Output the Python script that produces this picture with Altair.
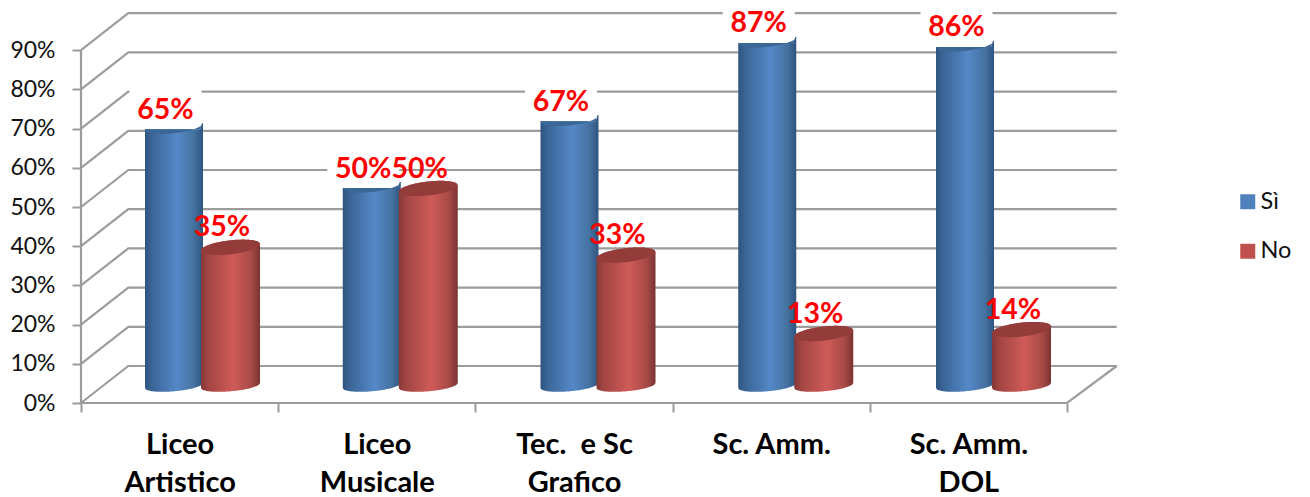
import json
import numpy as np
import pandas as pd
import altair as alt

CATEGORIES = [["Liceo", "Artistico"], ["Liceo", "Musicale"], ["Tec.\u00a0 e Sc", "Grafico"], ["Sc. Amm."], ["Sc. Amm.", "DOL"]]
SI = [65, 50, 67, 87, 86]
NO = [35, 50, 33, 13, 14]
LEVELS = [0, 10, 20, 30, 40, 50, 60, 70, 80, 90]
SERIES = ["Sì", "No"]
LEGEND_COLORS = ["#4F81BD", "#C0504D"]

# geometry: pixels per category / per percentage point
PX_X = 197.2
PX_Y = 3.92
W, H = 1039, 395
FONT = "Lato"
GRID = "#9c9c9c"

def dx(px):
    return px / PX_X

def dy(px):
    return px / PX_Y

DEPTH_X, DEPTH_Y = dx(47.3), dy(37)
BACK_END = 5 + dx(49.7)
MID_Y = dy(17.5)
BAR_STEP = dx(197.75)
BAR_W = {"Sì": dx(58), "No": dx(59)}
OFFS = {"Sì": dx(64), "No": dx(120)}
TOP_SHIFT = {"Sì": dy(4.5), "No": dy(1)}

# gridlines
grid_rows = []
for v in LEVELS:
    for k, (x, y) in enumerate([(0, v), (DEPTH_X, v + DEPTH_Y), (BACK_END, v + DEPTH_Y)]):
        grid_rows.append({"lvl": f"g{v}", "x": x, "y": y, "o": k})
for k, (x, y) in enumerate([(0, 0), (5, 0), (BACK_END, DEPTH_Y)]):
    grid_rows.append({"lvl": "floor", "x": x, "y": y, "o": k})
for k, (x, y) in enumerate([(0, 0), (0, 90)]):
    grid_rows.append({"lvl": "wall", "x": x, "y": y, "o": k})
grid_df = pd.DataFrame(grid_rows)

# cylinders
t = np.linspace(-1, 1, 61)
t = np.sort(np.concatenate([t, [0.9, 0.97]]))
s = np.sqrt(1 - t ** 2)
rows = []
for name, vals in zip(SERIES, [SI, NO]):
    for i, v in enumerate(vals):
        bw = BAR_W[name]
        c = i * BAR_STEP + OFFS[name] + bw / 2
        yc = v + MID_Y + TOP_SHIFT[name]
        for tt, ss in zip(t, s):
            lower = yc + dy(3.2 * tt - 7 * ss)
            if name == "Sì":
                upper = yc + dy(np.interp(tt, [-1, 0.9, 0.97, 1], [-3, -3, 3, 3]))
            else:
                upper = yc + dy(3.2 * tt + 7 * ss)
            base = MID_Y + dy(2.5 * tt - 5.8 * ss)
            rows.append({"series": name, "cat": i, "x": c + tt * bw / 2,
                         "upper": upper, "lower": lower, "base": base})
cyl = pd.DataFrame(rows)

# data labels
lab_rows = []
for name, vals in zip(SERIES, [SI, NO]):
    for i, v in enumerate(vals):
        cx = i * BAR_STEP + OFFS[name] + BAR_W[name] / 2 - dx(8.5)
        cy = v + MID_Y + dy(24)
        lab_rows.append({"series": name, "x": cx, "y": cy, "text": f"{v}%",
                         "x0": cx - dx(36), "x1": cx + dx(36),
                         "y0": cy - dy(18), "y1": cy + dy(18)})
lab = pd.DataFrame(lab_rows)

xs = alt.Scale(domain=[0, W / PX_X], nice=False, zero=False)
ys = alt.Scale(domain=[0, H / PX_Y], nice=False, zero=False)

label_expr = ("datum.value % 1 == 0 ? '' : " + json.dumps(CATEGORIES, ensure_ascii=False).replace('"', "'") +
              "[floor(datum.value)]")

x_axis = alt.Axis(
    values=[0, 0.5, 1, 1.5, 2, 2.5, 3, 3.5, 4, 4.5, 5],
    title=None, domain=False, grid=False, tickSize=9, tickWidth=2, tickColor=GRID,
    tickOpacity=alt.expr("datum.value % 1 == 0 ? 1 : 0"),
    labelExpr=label_expr, labelFont=FONT, labelFontWeight="bold", labelFontSize=29,
    labelColor="#000000", labelPadding=18, labelLineHeight=38, labelBaseline="top",
    labelOverlap=False, labelFlush=False,
)
y_axis = alt.Axis(
    values=LEVELS, title=None, domain=False, grid=False, tickSize=9, tickWidth=2, tickColor=GRID,
    labelExpr="datum.value + '%'", labelFont=FONT, labelFontSize=23, labelColor="#111111",
    labelPadding=17, labelOverlap=False, labelFlush=False,
)
X = alt.X("x:Q", scale=xs, axis=x_axis)

def Y(field):
    return alt.Y(field, scale=ys, axis=y_axis)

grid = alt.Chart(grid_df).mark_line(color=GRID, strokeWidth=2.2).encode(
    x=X, y=Y("y:Q"), detail="lvl:N", order="o:Q",
)

boxes = alt.Chart(lab[lab.series == "Sì"].drop(columns="x").rename(columns={"x0": "x"})).mark_rect(color="white").encode(
    x=X, x2="x1:Q", y=Y("y0:Q"), y2="y1:Q",
)

legend_src = alt.Chart(pd.DataFrame({"series": SERIES, "x": [OFFS["Sì"] + BAR_W["Sì"] / 2, OFFS["No"] + BAR_W["No"] / 2], "y": [5.0, 5.0]})).mark_square(size=4, opacity=1).encode(
    x=X, y=Y("y:Q"),
    color=alt.Color("series:N", sort=SERIES,
                    scale=alt.Scale(domain=SERIES, range=LEGEND_COLORS),
                    legend=alt.Legend(title=None, orient="none", legendX=1155, legendY=182,
                                      symbolType="square", symbolSize=225, symbolStrokeWidth=0,
                                      labelFont=FONT, labelFontSize=23.5, labelColor="#111111",
                                      rowPadding=24.5, labelOffset=1, padding=0)),
)

def grad(stops):
    return alt.Gradient(gradient="linear", x1=0, x2=1, y1=0, y2=0,
                        stops=[alt.GradientStop(offset=o, color=c) for o, c in stops])

BLUE = grad([(0, "#2F5480"), (0.12, "#3A6596"), (0.55, "#5588C8"), (0.85, "#44719F"), (1, "#2F5480")])
RED = grad([(0, "#843836"), (0.12, "#A24543"), (0.55, "#CF5B59"), (0.85, "#A84A47"), (1, "#7A3331")])

def body(name, fill):
    return alt.Chart(cyl[cyl.series == name]).mark_area(color=fill).encode(
        x=X, y=Y("upper:Q"), y2="base:Q", detail="cat:N",
    )

def cap(name, fill):
    return alt.Chart(cyl[cyl.series == name]).mark_area(color=fill).encode(
        x=X, y=Y("upper:Q"), y2="lower:Q", detail="cat:N",
    )

text = alt.Chart(lab).mark_text(color="#FF0000", font=FONT, fontWeight="bold", fontSize=28.5,
                                align="center", baseline="middle", dy=3).encode(
    x=X, y=Y("y:Q"), text="text:N",
)

chart = alt.layer(
    grid, boxes, legend_src,
    body("Sì", BLUE), cap("Sì", "#3B6797"),
    body("No", RED), cap("No", "#943C3A"),
    text,
).properties(
    width=W, height=H,
    padding={"left": 73, "top": 0, "right": 1294 - 73 - W, "bottom": 489 - H},
    autosize=alt.AutoSizeParams(type="none"),
).configure_view(stroke=None)

chart.save("out.html", embed_options={"renderer": "svg", "actions": False})
